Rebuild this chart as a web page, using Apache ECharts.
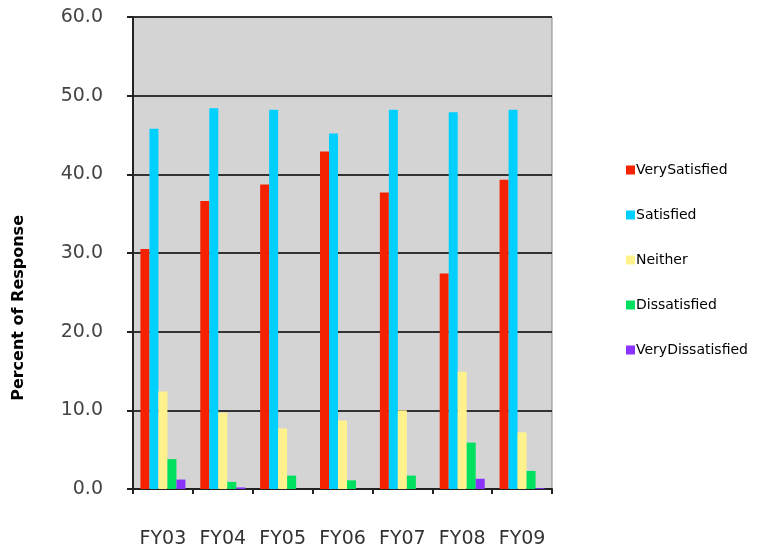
<!DOCTYPE html>
<html><head><meta charset="utf-8">
<script src="https://cdn.jsdelivr.net/npm/echarts@6/dist/echarts.min.js"></script>
<style>html,body{margin:0;padding:0;background:#fff}#c{width:757px;height:552px}</style>
</head><body><div id="c"></div>
<script>
var categories = ['FY03','FY04','FY05','FY06','FY07','FY08','FY09'];
var seriesNames = ['VerySatisfied','Satisfied','Neither','Dissatisfied','VeryDissatisfied'];
var verySatisfied = [30.5, 36.6, 38.7, 42.9, 37.7, 27.4, 39.3];
var satisfied = [45.8, 48.4, 48.2, 45.2, 48.2, 47.9, 48.2];
var neither = [12.4, 9.7, 7.7, 8.7, 10.0, 14.9, 7.2];
var dissatisfied = [3.8, 0.9, 1.7, 1.1, 1.7, 5.9, 2.3];
var veryDissatisfied = [1.2, 0.2, 0.0, 0.0, 0.0, 1.3, 0.1];
var yTicks = [0, 10, 20, 30, 40, 50, 60];

var colors = ['#f52200','#00d0ff','#fff28c','#00e060','#8a33ff'];
var dataSets = [verySatisfied, satisfied, neither, dissatisfied, veryDissatisfied];

var chart = echarts.init(document.getElementById('c'));
chart.setOption({
  animation: false,
  grid: {left: 133, top: 17, width: 419, height: 472, show: true, backgroundColor: '#d4d4d4', borderColor: '#888', borderWidth: 1},
  legend: {
    orient: 'vertical', left: 621, top: 158, itemGap: 31, itemWidth: 9, itemHeight: 9,
    icon: 'rect', data: seriesNames,
    textStyle: {fontFamily: 'DejaVu Sans', fontSize: 14, color: '#000', padding: [0,0,0,-4]}
  },
  xAxis: {
    type: 'category', data: categories,
    axisLine: {lineStyle: {color: '#222', width: 2}},
    axisTick: {show: true, length: 5, lineStyle: {color: '#222', width: 2}},
    axisLabel: {interval: 0, hideOverlap: false, margin: 41, fontFamily: 'DejaVu Sans', fontSize: 19, color: '#333'}
  },
  yAxis: {
    type: 'value', min: yTicks[0], max: yTicks[yTicks.length-1], interval: 10,
    axisLine: {show: true, lineStyle: {color: '#222', width: 2}},
    axisTick: {show: true, length: 6, lineStyle: {color: '#222', width: 2}},
    axisLabel: {margin: 30, fontFamily: 'DejaVu Sans', fontSize: 19, color: '#444', formatter: function(v){return v.toFixed(1);}},
    splitLine: {show: true, lineStyle: {color: '#333', width: 2}}
  },
  graphic: [{
    type: 'text', left: 11, top: 215, rotation: Math.PI/2,
    style: {text: 'Percent of Response', font: 'bold 16px "DejaVu Sans"', fill: '#000'}
  }],
  series: dataSets.map(function(d, i){
    return {name: seriesNames[i], type: 'bar', data: d, barWidth: 9, barGap: '0%',
      itemStyle: {color: colors[i]}};
  })
});
</script></body></html>
